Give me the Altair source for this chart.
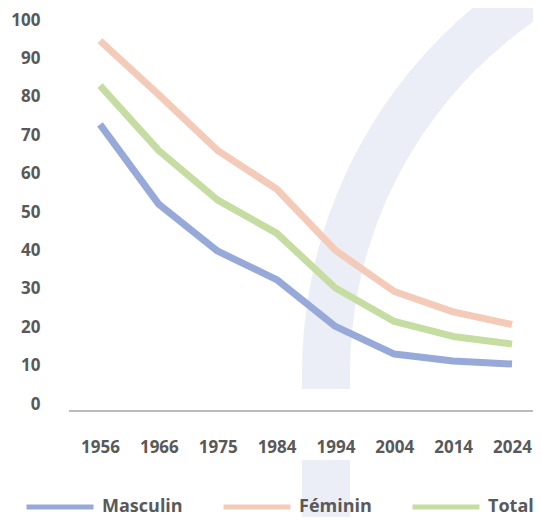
import altair as alt
import pandas as pd

years = ["1956", "1966", "1975", "1984", "1994", "2004", "2014", "2024"]
masculin = [72.8, 52.0, 39.8, 32.4, 20.2, 13.0, 11.2, 10.4]
feminin = [94.6, 80.5, 66.0, 56.0, 40.0, 29.3, 24.0, 20.7]
total = [82.9, 66.0, 53.1, 44.5, 30.2, 21.5, 17.6, 15.6]
series = ["Masculin", "Féminin", "Total"]
colors = ["#97A9D9", "#F4CBB9", "#C5DDA0"]
y_ticks = [0, 10, 20, 30, 40, 50, 60, 70, 80, 90, 100]

rows = []
for name, vals in zip(series, [masculin, feminin, total]):
    for yr, v in zip(years, vals):
        rows.append({"Année": yr, "Valeur": v, "Série": name})
df = pd.DataFrame(rows)

FONT = "Open Sans"
TXT = "#595959"
BAND = "#ECEEF7"
W, H = 464, 391

one = alt.Data(values=[{"k": 1}])

arc = alt.Chart(one).mark_arc(color=BAND).encode(
    x=alt.value(709), y=alt.value(353),
    theta=alt.value(4.7124), theta2=alt.value(6.2832),
    radius=alt.value(476), radius2=alt.value(428),
)
band1 = alt.Chart(one).mark_rect(color=BAND).encode(
    x=alt.value(233), x2=alt.value(281), y=alt.value(352), y2=alt.value(369)
)
band2 = alt.Chart(one).mark_rect(color=BAND).encode(
    x=alt.value(233), x2=alt.value(281), y=alt.value(440), y2=alt.value(500)
)
axis_line = alt.Chart(one).mark_rule(color="#A6A6A6", strokeWidth=1.5).encode(
    x=alt.value(0), x2=alt.value(W), y=alt.value(H)
)

lines = alt.Chart(df).mark_line(strokeWidth=7, strokeCap="butt", strokeJoin="round").encode(
    x=alt.X("Année:O", sort=years,
            scale=alt.Scale(type="point", range=[31, 443], padding=0),
            axis=alt.Axis(title=None, labelAngle=0, ticks=False, grid=False,
                          domain=False, labelPadding=28, labelFont=FONT,
                          labelFontSize=17, labelFontWeight="bold",
                          labelColor=TXT)),
    y=alt.Y("Valeur:Q",
            scale=alt.Scale(domain=[-1.82, 100], nice=False, zero=False),
            axis=alt.Axis(title=None, values=y_ticks, ticks=False, grid=False,
                          domain=False, labelPadding=29, labelFont=FONT,
                          labelFontSize=17, labelFontWeight="bold",
                          labelColor=TXT)),
    color=alt.Color("Série:N", sort=series,
                    scale=alt.Scale(domain=series, range=colors),
                    legend=alt.Legend(title=None, orient="none", direction="horizontal",
                                      legendX=-45, legendY=451,
                                      symbolType="stroke", symbolSize=4489,
                                      symbolStrokeWidth=5, labelOffset=6,
                                      columnPadding=30, labelFont=FONT,
                                      labelFontSize=18, labelFontWeight="bold",
                                      labelColor=TXT)),
)

chart = alt.layer(arc, band1, band2, axis_line, lines).properties(
    width=W, height=H,
    autosize=alt.AutoSizeParams(type="none"),
    padding={"left": 61, "top": 12, "right": 0, "bottom": 106},
).configure_view(stroke=None)

chart.save("out.html", embed_options={"renderer": "svg", "actions": False})
